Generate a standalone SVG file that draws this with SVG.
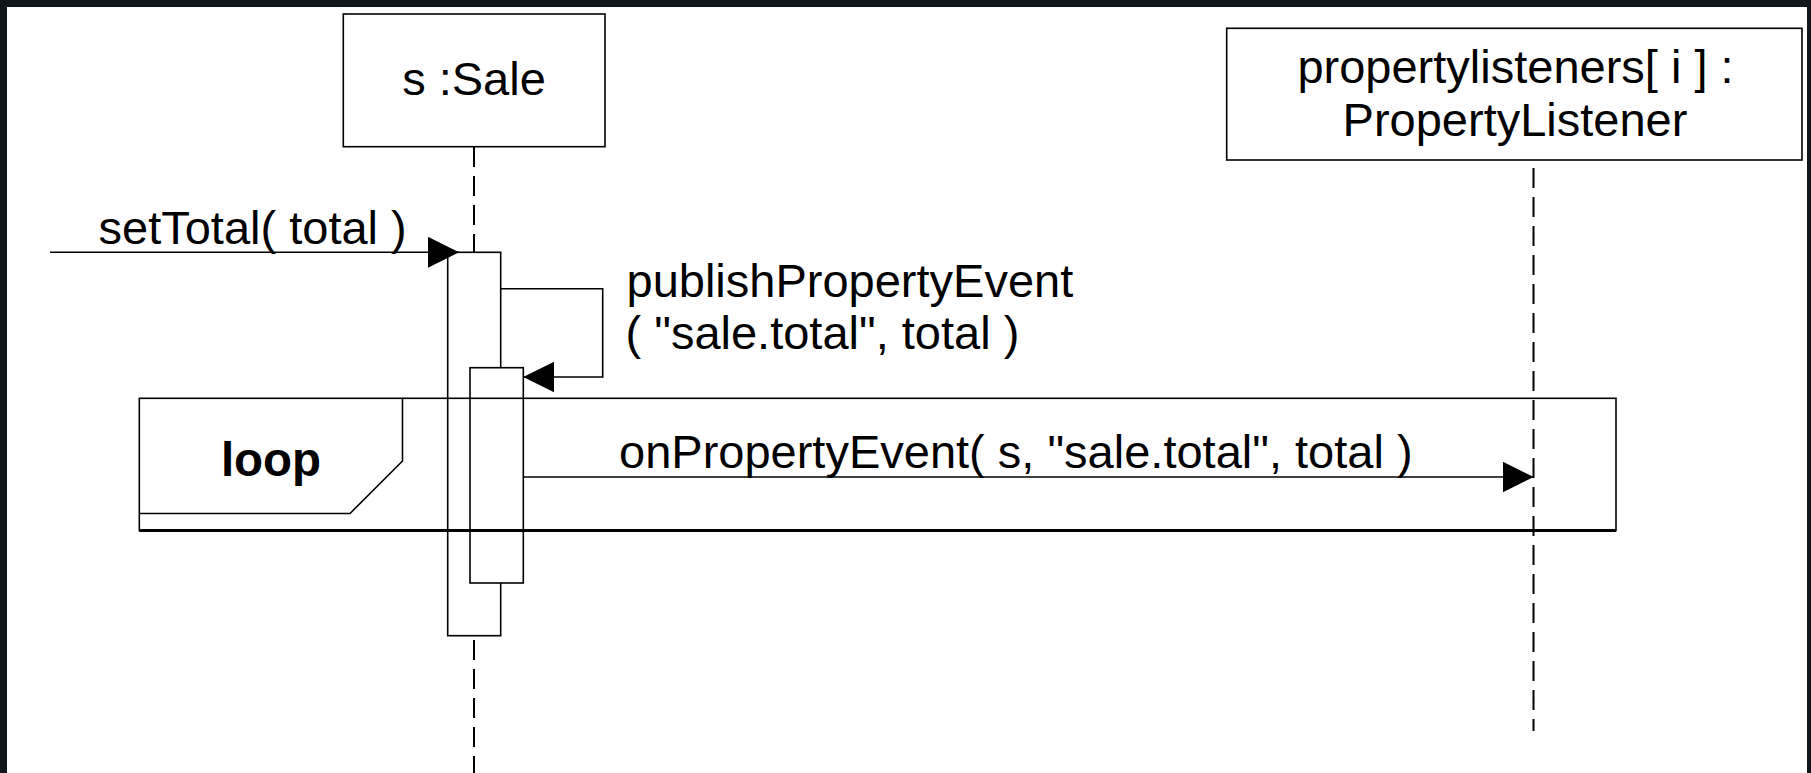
<svg xmlns="http://www.w3.org/2000/svg" width="1811" height="773" viewBox="0 0 1811 773">
  <style>
    .box { fill: #ffffff; stroke: #000000; stroke-width: 1.6; }
    .frame { fill: none; stroke: #000000; stroke-width: 1.6; }
    .life { fill: none; stroke: #000000; stroke-width: 2; stroke-dasharray: 20 9; }
    .msg { fill: none; stroke: #000000; stroke-width: 1.6; marker-end: url(#arrow); }
    .lbl { font-family: "Liberation Sans", Arial, Helvetica, sans-serif; font-size: 47px; fill: #000000; }
    .bold { font-weight: bold; font-size: 47.5px; }
    .mid { text-anchor: middle; }
  </style>
  <defs>
    <marker id="arrow" markerUnits="userSpaceOnUse" markerWidth="32" markerHeight="32" refX="31" refY="15.5" orient="auto" viewBox="0 0 32 32">
      <path d="M0,0 L31,15.5 L0,31 Z" fill="#000000"/>
    </marker>
  </defs>

  <!-- page background and dark edge -->
  <rect x="0" y="0" width="1811" height="773" fill="#ffffff"/>
  <g id="edge" fill="#11161c">
    <rect x="0" y="0" width="1811" height="7"/>
    <rect x="0" y="0" width="7" height="773"/>
    <rect x="1807" y="0" width="4" height="773"/>
  </g>

  <!-- lifelines -->
  <g id="lifelines">
    <line class="life" x1="474" y1="147" x2="474" y2="773"/>
    <line class="life" x1="1533.5" y1="168" x2="1533.5" y2="731"/>
  </g>

  <!-- participant: s :Sale -->
  <g id="sale">
    <rect class="box" x="343.3" y="14" width="261.7" height="132.7"/>
    <text class="lbl mid" x="474" y="95">s :Sale</text>
  </g>

  <!-- participant: propertylisteners[ i ] : PropertyListener -->
  <g id="listener">
    <rect class="box" x="1226.7" y="28.3" width="575.3" height="131.7"/>
    <text class="lbl mid" x="1515.5" y="83">propertylisteners[ i ] :</text>
    <text class="lbl mid" x="1515" y="136">PropertyListener</text>
  </g>

  <!-- execution specifications on s :Sale -->
  <g id="sale-activation">
    <rect class="box" x="447.7" y="252.3" width="53" height="383.4"/>
    <rect class="box" x="470" y="367.7" width="53.3" height="215.3"/>
  </g>

  <!-- combined fragment: loop -->
  <g id="loop">
    <rect class="frame" x="139.3" y="398.3" width="1476.7" height="132.2"/>
    <line x1="139.3" y1="530.5" x2="1616" y2="530.5" stroke="#000000" stroke-width="2.8"/>
    <path class="frame" d="M139.3,513.5 H350 L402.5,461 V398.3"/>
    <text class="lbl bold mid" x="271" y="476">loop</text>
  </g>

  <!-- messages -->
  <g id="connectors">
    <line class="msg" x1="50" y1="252.3" x2="459" y2="252.3"/>
    <path class="msg" d="M500.7,288.7 H602.7 V377 H523.3"/>
    <line class="msg" x1="523.3" y1="477" x2="1533.5" y2="477"/>
  </g>

  <!-- message labels -->
  <g id="message-labels">
    <text class="lbl" x="98.5" y="243.5">setTotal( total )</text>
    <text class="lbl" x="626.5" y="297">publishPropertyEvent</text>
    <text class="lbl" x="625.5" y="349">( "sale.total", total )</text>
    <text class="lbl" x="619" y="468">onPropertyEvent( s, "sale.total", total )</text>
  </g>
</svg>
